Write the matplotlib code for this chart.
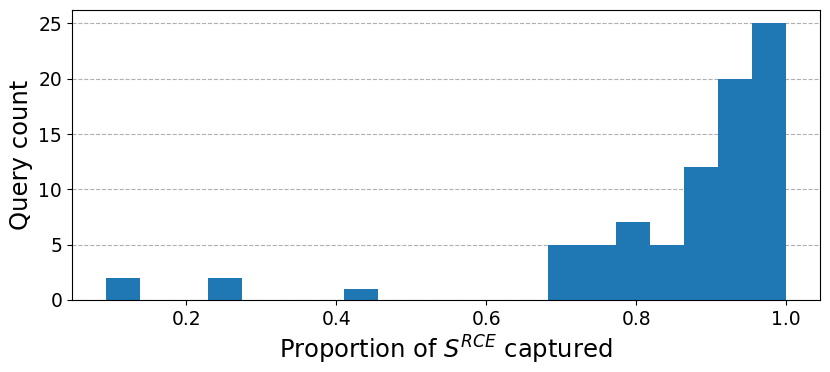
import numpy as np
import matplotlib
matplotlib.use("Agg")
import matplotlib.pyplot as plt

# Histogram of proportion captured: 20 equal bins from the smallest value to 1.0
bin_lo = 0.093
bin_hi = 1.0
n_bins = 20
counts = [2, 0, 0, 2, 0, 0, 0, 1, 0, 0, 0, 0, 0, 5, 5, 7, 5, 12, 20, 25]

edges = np.linspace(bin_lo, bin_hi, n_bins + 1)
centers = (edges[:-1] + edges[1:]) / 2

fig = plt.figure(figsize=(8.3, 3.72), dpi=100)
ax = fig.add_axes([0.0867, 0.194, 0.9013, 0.780])

ax.hist(centers, bins=edges, weights=counts, color="#1f77b4")
ax.set_axisbelow(True)
ax.grid(axis="y", linestyle="--", color="#b0b0b0", linewidth=0.8)

ax.set_yticks([0, 5, 10, 15, 20, 25])
ax.set_xticks([0.2, 0.4, 0.6, 0.8, 1.0])
ax.tick_params(labelsize=13.5)
ax.set_xlabel(r"Proportion of $S^{RCE}$ captured", fontsize=17.5)
ax.set_ylabel("Query count", fontsize=17.5)

fig.savefig("out.png", dpi=100)
